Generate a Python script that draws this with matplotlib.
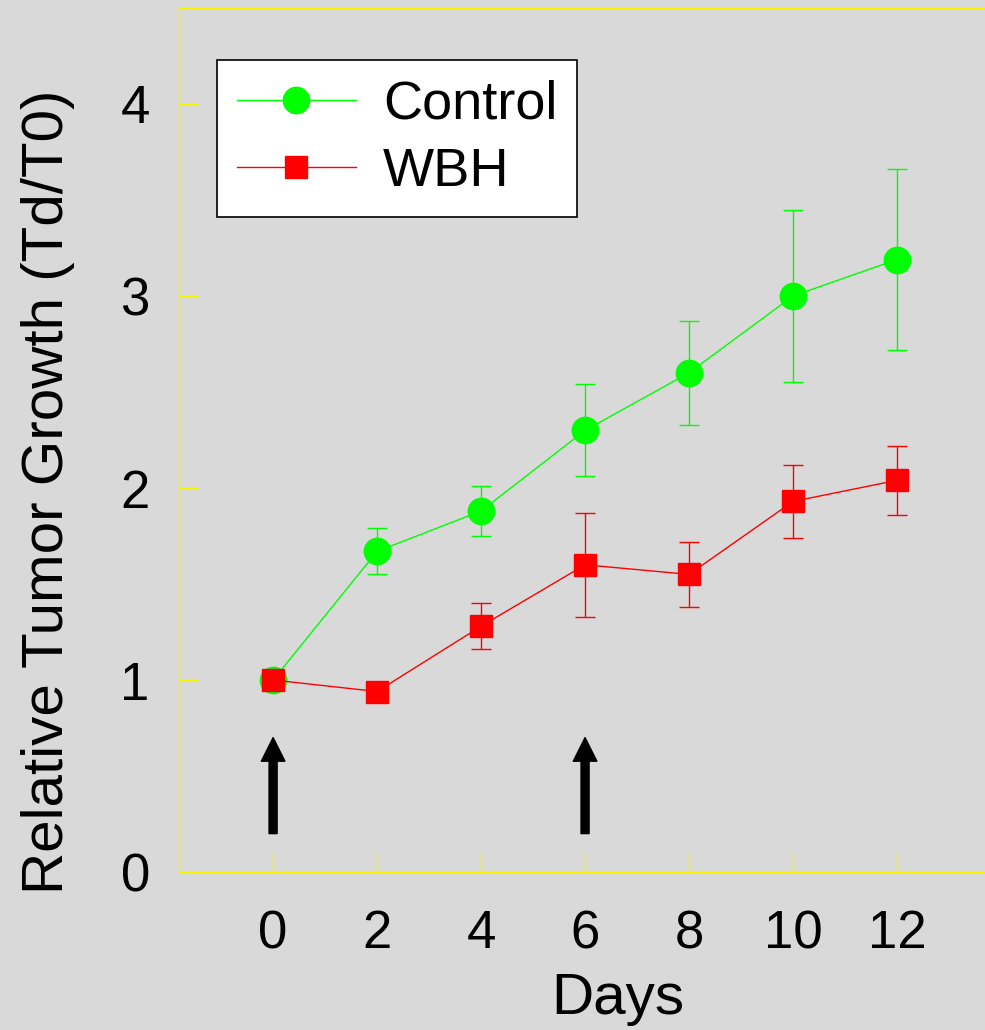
import matplotlib.pyplot as plt

plt.rcParams["font.family"] = ["Liberation Sans", "DejaVu Sans"]

days = [0, 2, 4, 6, 8, 10, 12]

control = [1.0, 1.67, 1.88, 2.30, 2.60, 3.00, 3.19]
control_err = [0.0, 0.12, 0.13, 0.24, 0.27, 0.45, 0.47]

wbh = [1.0, 0.94, 1.28, 1.60, 1.55, 1.93, 2.04]
wbh_err = [0.0, 0.0, 0.12, 0.27, 0.17, 0.19, 0.18]

# treatment days marked with arrows
arrow_days = [0, 6]
arrow_from = 0.2
arrow_to = 0.7

bg = "#d9d9d9"
yellow = "#f5f500"
green = "#00ff00"
red = "#ff0000"

fig = plt.figure(figsize=(9.85, 10.3), dpi=100, facecolor=bg)
ax = fig.add_axes([179 / 985, 158 / 1030, 822 / 985, 864 / 1030], facecolor=bg)

ax.errorbar(days, control, yerr=control_err, fmt="none", ecolor=green,
            elinewidth=1, capsize=7, capthick=1)
ax.plot(days, control, color=green, lw=1, marker="o", ms=19, label="Control")
ax.errorbar(days, wbh, yerr=wbh_err, fmt="none", ecolor=red,
            elinewidth=1, capsize=7, capthick=1)
ax.plot(days, wbh, color=red, lw=1, marker="s", ms=16, label="WBH")

for d in arrow_days:
    ax.annotate("", xy=(d, arrow_to), xytext=(d, arrow_from),
                arrowprops=dict(width=5.8, headwidth=17, headlength=17,
                                shrink=0, color="black"))

ax.set_xlim(-1.81, 14.0)
ax.set_ylim(0, 4.5)
ax.set_xticks(days)
ax.set_yticks([0, 1, 2, 3, 4])

for s in ax.spines.values():
    s.set_color(yellow)
    s.set_linewidth(1)
ax.tick_params(direction="in", length=14, width=1, color=yellow, labelsize=38)
ax.tick_params(axis="x", pad=27)
ax.tick_params(axis="y", pad=21)

ax.set_xlabel("Days", fontsize=42, x=0.534, labelpad=9)
ax.set_ylabel("Relative Tumor Growth (Td/T0)", fontsize=42, y=0.44, labelpad=33)

leg = ax.legend(loc="upper left", bbox_to_anchor=(217 / 985, 970 / 1030),
                bbox_transform=fig.transFigure, borderaxespad=0,
                fontsize=39, frameon=True, fancybox=False, framealpha=1,
                edgecolor="black", handlelength=2.2, handletextpad=0.5,
                labelspacing=0.33, borderpad=0.36)
leg.get_frame().set_linewidth(1.2)

fig.savefig("out.png", dpi=100, facecolor=bg)
